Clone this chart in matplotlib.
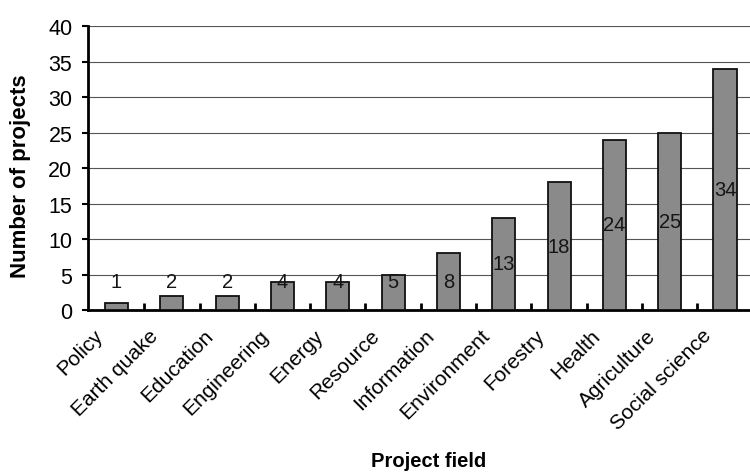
import matplotlib.pyplot as plt
import matplotlib.transforms as mtransforms
import numpy as np

plt.rcParams['font.family'] = ['Liberation Sans', 'DejaVu Sans']

# project counts by field
fields = ['Policy', 'Earth quake', 'Education', 'Engineering', 'Energy',
          'Resource', 'Information', 'Environment', 'Forestry', 'Health',
          'Agriculture', 'Social science']
counts = [1, 2, 2, 4, 4, 5, 8, 13, 18, 24, 25, 34]

fig = plt.figure(figsize=(7.5, 4.77), dpi=100)
ax = fig.add_axes([0.117, 0.348, 0.883, 0.595])

x = np.arange(len(fields))
ax.bar(x, counts, width=0.42, color='#8a8a8a', edgecolor='#111111',
       linewidth=1.3, zorder=3)

for xi, v in zip(x, counts):
    ax.text(xi, max(v / 2, 4), str(v), ha='center', va='center',
            fontsize=14.5, color='#151515', zorder=4)

ax.set_ylim(0, 40)
ax.set_xlim(-0.52, 11.45)
ax.set_yticks(range(0, 41, 5))
ax.yaxis.grid(True, color='#555555', linewidth=0.8, zorder=0)

ax.set_xticks(x)
ax.set_xticklabels(fields, rotation=45, ha='right', va='center',
                   rotation_mode='anchor', fontsize=15)
ax.tick_params(axis='x', length=0, pad=16)
shift = mtransforms.ScaledTranslation(-0.17, 0, fig.dpi_scale_trans)
for lbl in ax.get_xticklabels():
    lbl.set_transform(lbl.get_transform() + shift)
ax.set_xticks(x[:-1] + 0.5, minor=True)
ax.tick_params(axis='x', which='minor', direction='in', length=5, width=2)
ax.tick_params(axis='y', labelsize=15.5, direction='out', length=4, width=1.5,
               pad=7)

for side in ['top', 'right']:
    ax.spines[side].set_visible(False)
for side in ['left', 'bottom']:
    ax.spines[side].set_linewidth(2)

ax.set_ylabel('Number of projects', fontsize=16, fontweight='bold')
ax.yaxis.set_label_coords(-0.086, 0.475)
fig.text(0.572, 1 - 462 / 477, 'Project field', ha='center', va='center',
         fontsize=14.5, fontweight='bold')

fig.savefig('out.png', dpi=100)
